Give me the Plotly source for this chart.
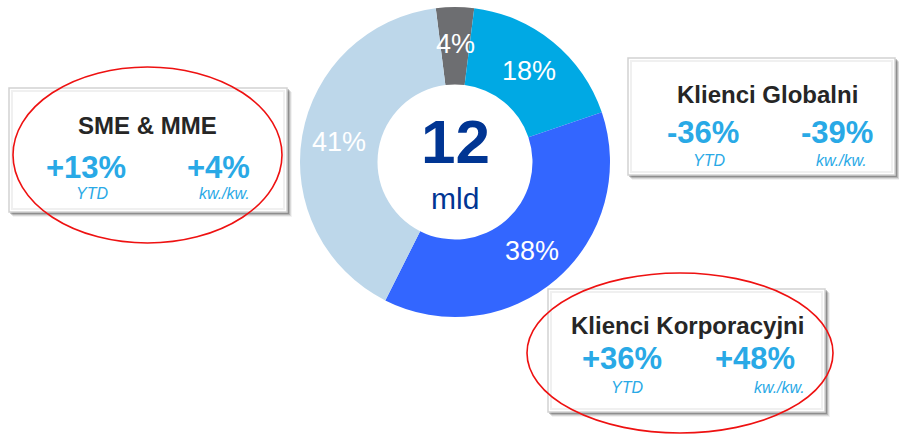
import math
import plotly.graph_objects as go

# ---- data ----
segments = ["Inne", "Klienci Globalni", "Klienci Korporacyjni", "SME & MME"]
shares = [4, 18, 38, 41]
slice_colors = ["#6d6e71", "#00a9e4", "#3366ff", "#bdd7ea"]
total_value = "12"
total_unit = "mld"

box_titles = ["SME & MME", "Klienci Globalni", "Klienci Korporacyjni"]
ytd_values = ["+13%", "-36%", "+36%"]
qoq_values = ["+4%", "-39%", "+48%"]
ytd_label = "YTD"
qoq_label = "kw./kw."

W, H = 899, 435
FONT = "Liberation Sans, Arial, sans-serif"
VAL_COLOR = "#29a9e6"
TITLE_COLOR = "#262626"

# donut geometry (pixels)
px0, px1, py0, py1 = 300, 610, 7, 317
hole = 0.5
cx, cy = (px0 + px1) / 2, (py0 + py1) / 2
R = (px1 - px0) / 2
tot = sum(shares)
rotation = -shares[0] / tot * 360 / 2

fig = go.Figure()
fig.add_trace(go.Pie(
    values=shares, labels=segments, sort=False, direction="clockwise",
    rotation=rotation, hole=hole,
    marker=dict(colors=slice_colors, line=dict(width=0)),
    textinfo="none", hoverinfo="skip", showlegend=False,
    domain=dict(x=[px0 / W, px1 / W], y=[1 - py1 / H, 1 - py0 / H]),
))
# dummy scatter to establish pixel axes
fig.add_trace(go.Scatter(x=[0, W], y=[0, H], mode="markers",
                         marker=dict(opacity=0), hoverinfo="skip", showlegend=False))

annotations = []
# slice labels, placed at mid-ring of each slice
rl = (R + R * hole) / 2 + 1.5
cum = 0
for s in shares:
    mid = rotation + (cum + s / 2) / tot * 360
    cum += s
    a = math.radians(mid)
    annotations.append(dict(x=cx + rl * math.sin(a), y=cy - rl * math.cos(a),
                            text=f"{s}%", showarrow=False,
                            font=dict(family=FONT, size=27, color="white")))
# center text
annotations.append(dict(x=cx, y=141, text=f"<b>{total_value}</b>", showarrow=False,
                        font=dict(family=FONT, size=62, color="#003593")))
annotations.append(dict(x=cx, y=198, text=total_unit, showarrow=False,
                        font=dict(family=FONT, size=30, color="#003593")))

boxes = [
    dict(x0=9, x1=287, y0=88, y1=212, ty=125, vy=167, sy=193, vx=(86, 218), sx=(92, 224), tx=147),
    dict(x0=628, x1=895, y0=58, y1=175, ty=94, vy=132, sy=160, vx=(703, 837), sx=(709, 841), tx=767),
    dict(x0=548, x1=825, y0=289, y1=412, ty=325, vy=358, sy=387, vx=(622, 755), sx=(627, 779), tx=687),
]
ellipses = [(13, 282, 67, 243), None, (527, 833, 273, 433)]

shapes = []
for i, b in enumerate(boxes):
    for off, op in [(5, 0.05), (4, 0.1), (3, 0.16), (2, 0.22)]:
        shapes.append(dict(type="rect", xref="x", yref="y",
                           x0=b["x0"] + off - 1, x1=b["x1"] + off, y0=b["y0"] + off - 1, y1=b["y1"] + off,
                           fillcolor=f"rgba(0,0,0,{op})", line=dict(width=0)))
    shapes.append(dict(type="rect", xref="x", yref="y",
                       x0=b["x0"], x1=b["x1"], y0=b["y0"], y1=b["y1"],
                       fillcolor="white", line=dict(color="#d2d2d2", width=1.5)))
    shapes.append(dict(type="rect", xref="x", yref="y",
                       x0=b["x0"] + 3, x1=b["x1"] - 3, y0=b["y0"] + 3, y1=b["y1"] - 3,
                       fillcolor="rgba(0,0,0,0)", line=dict(color="#f0f0f0", width=2)))
    annotations.append(dict(x=b["tx"], y=b["ty"], text=f"<b>{box_titles[i]}</b>", showarrow=False,
                            font=dict(family=FONT, size=24, color=TITLE_COLOR)))
    for xv, val in zip(b["vx"], [ytd_values[i], qoq_values[i]]):
        annotations.append(dict(x=xv, y=b["vy"], text=f"<b>{val}</b>", showarrow=False,
                                font=dict(family=FONT, size=31, color=VAL_COLOR)))
    for xs, lab in zip(b["sx"], [ytd_label, qoq_label]):
        annotations.append(dict(x=xs, y=b["sy"], text=f"<i>{lab}</i>", showarrow=False,
                                font=dict(family=FONT, size=16, color=VAL_COLOR)))
    e = ellipses[i]
    if e:
        shapes.append(dict(type="circle", xref="x", yref="y", x0=e[0], x1=e[1], y0=e[2], y1=e[3],
                           line=dict(color="#ee1111", width=1.6), fillcolor="rgba(0,0,0,0)"))

fig.update_layout(
    width=W, height=H, margin=dict(l=0, r=0, t=0, b=0),
    paper_bgcolor="white", plot_bgcolor="rgba(0,0,0,0)",
    xaxis=dict(range=[0, W], visible=False, fixedrange=True),
    yaxis=dict(range=[H, 0], visible=False, fixedrange=True),
    shapes=shapes, annotations=annotations, showlegend=False,
)
fig.write_html("out.html", config={"displayModeBar": False},
               post_script="document.body.style.margin='0';document.body.style.overflow='hidden';")
